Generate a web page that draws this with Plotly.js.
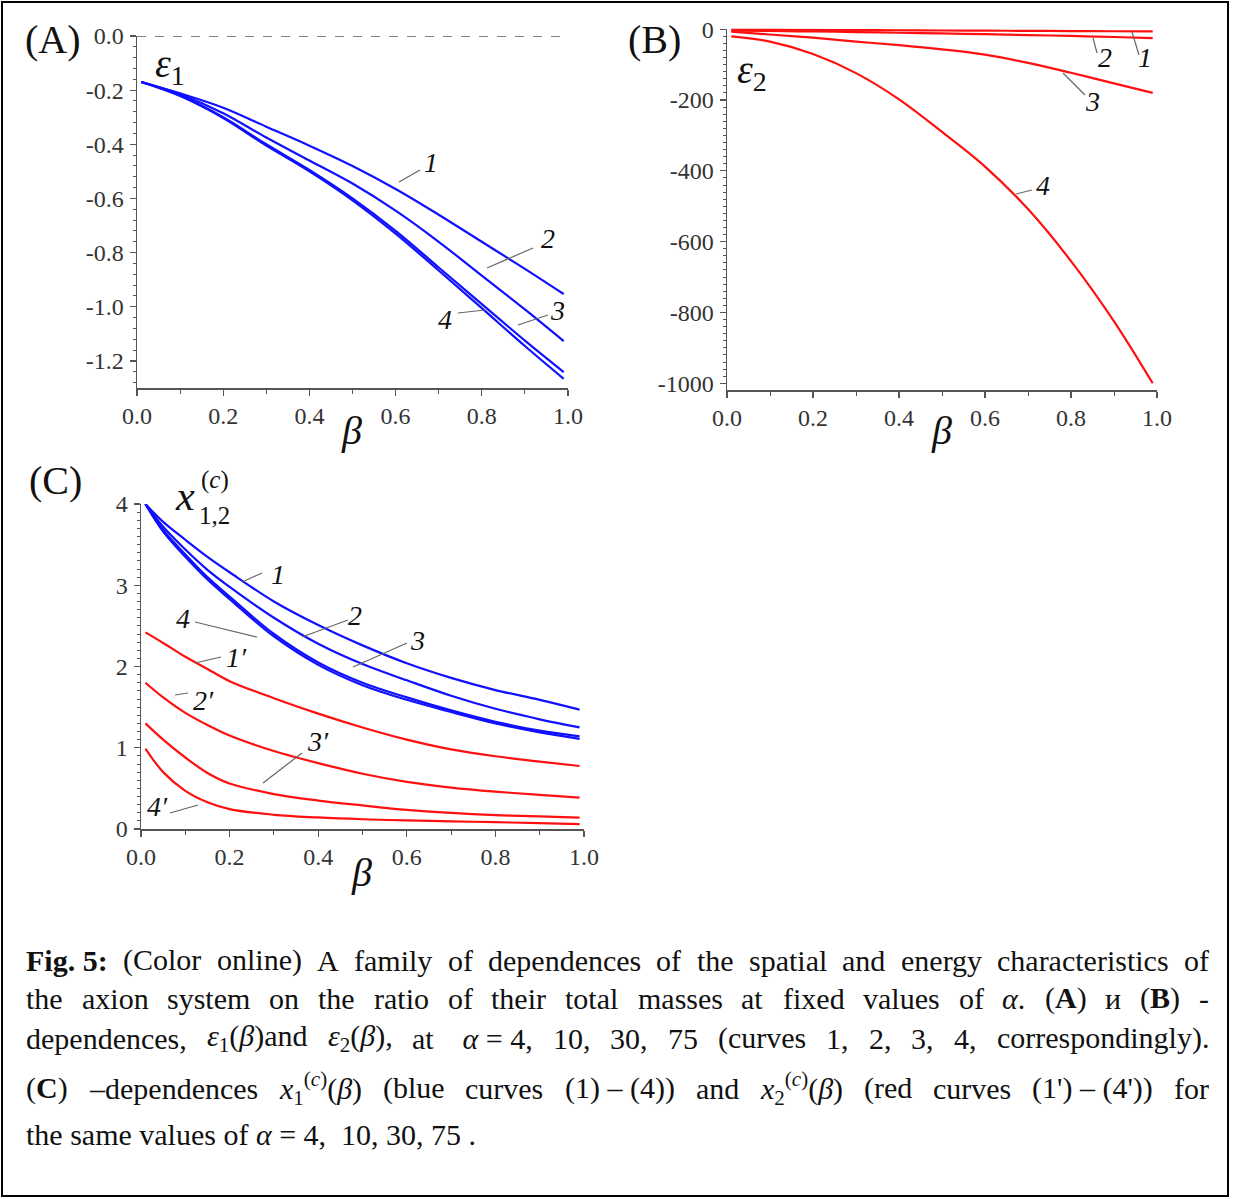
<!DOCTYPE html>
<html>
<head>
<meta charset="utf-8">
<script src="https://cdn.plot.ly/plotly-3.0.1.min.js"></script>
<style>
html,body{margin:0;padding:0;background:#fff;}
#plot{width:1236px;height:1199px;}
</style>
</head>
<body>
<div id="plot"></div>
<script>
// ---------------- DATA ----------------
// Panel A: eps1(beta) for alpha = 4, 10, 30, 75
const betaA = [0.01, 0.1, 0.2, 0.3, 0.4, 0.5, 0.6, 0.7, 0.8, 0.9, 0.99];
const eps1_a4  = [-0.170, -0.212, -0.265, -0.335, -0.405, -0.480, -0.565, -0.660, -0.760, -0.860, -0.953];
const eps1_a10 = [-0.170, -0.215, -0.285, -0.375, -0.460, -0.545, -0.645, -0.760, -0.885, -1.010, -1.127];
const eps1_a30 = [-0.170, -0.220, -0.300, -0.400, -0.495, -0.600, -0.720, -0.855, -0.990, -1.125, -1.241];
const eps1_a75 = [-0.170, -0.222, -0.303, -0.405, -0.500, -0.607, -0.730, -0.866, -1.005, -1.145, -1.266];

// Panel B: eps2(beta)
const betaB = [0.01, 0.1, 0.2, 0.3, 0.4, 0.5, 0.6, 0.7, 0.8, 0.9, 0.99];
const eps2_a4  = [-1, -1.4, -1.9, -2.5, -3, -3.6, -4.1, -4.7, -5.2, -5.8, -6.3];
const eps2_a10 = [-4, -5, -6.5, -8, -10, -12, -14, -16.5, -19, -22, -25];
const eps2_a30 = [-7, -15, -24, -35, -45, -57, -72, -95, -123, -153, -180];
const eps2_a75 = [-20, -35, -70, -124, -198, -290, -388, -508, -655, -825, -1000];

// Panel C: x1^(c)(beta) (blue) and x2^(c)(beta) (red)
const betaC = [0.01, 0.05, 0.1, 0.15, 0.2, 0.3, 0.4, 0.5, 0.6, 0.7, 0.8, 0.9, 0.99];
const x1_a4  = [4.0, 3.78, 3.56, 3.35, 3.16, 2.80, 2.51, 2.26, 2.04, 1.86, 1.71, 1.59, 1.47];
const x1_a10 = [4.0, 3.72, 3.44, 3.19, 2.98, 2.60, 2.28, 2.03, 1.83, 1.64, 1.48, 1.35, 1.25];
const x1_a30 = [4.0, 3.68, 3.38, 3.10, 2.86, 2.40, 2.05, 1.80, 1.62, 1.46, 1.32, 1.21, 1.14];
const x1_a75 = [4.0, 3.66, 3.35, 3.07, 2.83, 2.37, 2.02, 1.77, 1.59, 1.44, 1.30, 1.19, 1.11];
const x2_a4  = [2.42, 2.29, 2.12, 1.97, 1.82, 1.61, 1.42, 1.25, 1.10, 0.98, 0.895, 0.83, 0.775];
const x2_a10 = [1.80, 1.62, 1.43, 1.28, 1.15, 0.96, 0.81, 0.68, 0.58, 0.51, 0.46, 0.42, 0.385];
const x2_a30 = [1.30, 1.10, 0.88, 0.69, 0.56, 0.43, 0.35, 0.29, 0.235, 0.198, 0.172, 0.155, 0.14];
const x2_a75 = [0.99, 0.70, 0.47, 0.33, 0.245, 0.175, 0.142, 0.12, 0.105, 0.094, 0.084, 0.072, 0.06];

// Tick labels
const xTickVals = [0, 0.2, 0.4, 0.6, 0.8, 1.0];
const xTickText = ["0.0", "0.2", "0.4", "0.6", "0.8", "1.0"];
const yTickValsA = [0, -0.2, -0.4, -0.6, -0.8, -1.0, -1.2];
const yTickTextA = ["0.0", "-0.2", "-0.4", "-0.6", "-0.8", "-1.0", "-1.2"];
const yTickValsB = [0, -200, -400, -600, -800, -1000];
const yTickTextB = ["0", "-200", "-400", "-600", "-800", "-1000"];
const yTickValsC = [0, 1, 2, 3, 4];
const yTickTextC = ["0", "1", "2", "3", "4"];

// Caption text (tokens per line, justified)
const captionLines = [
  ["<b>Fig. 5:</b>", "(Color", "online)", "A", "family", "of", "dependences", "of", "the", "spatial", "and", "energy", "characteristics", "of"],
  ["the", "axion", "system", "on", "the", "ratio", "of", "their", "total", "masses", "at", "fixed", "values", "of", "<i>α</i>.", "(<b>A</b>)", "и", "(<b>B</b>)", "-"],
  ["dependences,", "<i>ε</i><sub>1</sub>(<i>β</i>)and", "<i>ε</i><sub>2</sub>(<i>β</i>),", "at", " <i>α</i> = 4,", "10,", "30,", "75", "(curves", "1,", "2,", "3,", "4,", "correspondingly)."],
  ["(<b>C</b>)", "–dependences", "<i>x</i><sub>1</sub><sup>(<i>c</i>)</sup>(<i>β</i>)", "(blue", "curves", "(1) – (4))", "and", "<i>x</i><sub>2</sub><sup>(<i>c</i>)</sup>(<i>β</i>)", "(red", "curves", "(1') – (4'))", "for"],
  ["the same values of <i>α</i> = 4,  10, 30, 75 ."]
];

// ---------------- LAYOUT HELPERS ----------------
const W = 1236, H = 1199;
const px = x => x / W;
const py = y => 1 - y / H;
const SERIF = "Liberation Serif";
const AX = "#555";
const BLUE = "#1010ff";
const RED = "#ff1010";
const tf = () => ({family: SERIF, size: 24, color: "#333"});

function xAxis(l, r, anchor) {
  return {
    domain: [px(l), px(r)], range: [0, 1], anchor: anchor,
    tickmode: "array", tickvals: xTickVals, ticktext: xTickText,
    ticks: "outside", ticklen: 6, tickwidth: 1.2, tickcolor: AX,
    ticklabelstandoff: 0,
    tickfont: tf(),
    minor: {tick0: 0, dtick: 0.1, ticks: "outside", ticklen: 4, tickwidth: 1, tickcolor: AX, showgrid: false},
    showline: true, linecolor: AX, linewidth: 1.5,
    showgrid: false, zeroline: false
  };
}
function yAxis(top, bottom, range, vals, text, minorDt, anchor) {
  return {
    domain: [py(bottom), py(top)], range: range, anchor: anchor,
    tickmode: "array", tickvals: vals, ticktext: text,
    ticks: "outside", ticklen: 6, tickwidth: 1.2, tickcolor: AX,
    ticklabelstandoff: 1,
    tickfont: tf(),
    minor: {tick0: 0, dtick: minorDt, ticks: "outside", ticklen: 3, tickwidth: 1, tickcolor: AX, showgrid: false},
    showline: true, linecolor: AX, linewidth: 1.5,
    showgrid: false, zeroline: false
  };
}
function curve(x, y, color, xa, ya) {
  return {x: x, y: y, type: "scatter", mode: "lines", xaxis: xa, yaxis: ya,
          line: {color: color, width: 2.2, shape: "spline", smoothing: 1},
          cliponaxis: false, showlegend: false, hoverinfo: "skip"};
}

const data = [
  curve(betaA, eps1_a4, BLUE, "x", "y"),
  curve(betaA, eps1_a10, BLUE, "x", "y"),
  curve(betaA, eps1_a30, BLUE, "x", "y"),
  curve(betaA, eps1_a75, BLUE, "x", "y"),
  curve(betaB, eps2_a4, RED, "x2", "y2"),
  curve(betaB, eps2_a10, RED, "x2", "y2"),
  curve(betaB, eps2_a30, RED, "x2", "y2"),
  curve(betaB, eps2_a75, RED, "x2", "y2"),
  curve(betaC, x1_a4, BLUE, "x3", "y3"),
  curve(betaC, x1_a10, BLUE, "x3", "y3"),
  curve(betaC, x1_a30, BLUE, "x3", "y3"),
  curve(betaC, x1_a75, BLUE, "x3", "y3"),
  curve(betaC, x2_a4, RED, "x3", "y3"),
  curve(betaC, x2_a10, RED, "x3", "y3"),
  curve(betaC, x2_a30, RED, "x3", "y3"),
  curve(betaC, x2_a75, RED, "x3", "y3")
];

// Text labels
const annotations = [];
function lab(text, x, y, size, xanchor) {
  annotations.push({text: text, x: px(x), y: py(y), xref: "paper", yref: "paper",
    xanchor: xanchor || "center", yanchor: "middle", showarrow: false, borderpad: 0,
    font: {family: SERIF, size: size, color: "#111"}});
}
lab("(A)", 53, 40, 40);
lab("(B)", 655, 40, 40);
lab("(C)", 55, 480, 40);
lab("<i>ε</i><sub>1</sub>", 154, 66, 40, "left");
lab("<i>ε</i><sub>2</sub>", 736, 72, 40, "left");
lab("<i>x</i>", 185, 496, 42);
lab("(<i>c</i>)", 215, 480, 25);
lab("1,2", 214, 515, 25);
lab("<i>β</i>", 351, 430, 40);
lab("<i>β</i>", 941, 430, 40);
lab("<i>β</i>", 361, 872, 40);
// curve labels
const cl = 28;
lab("<i>1</i>", 431, 162, cl); lab("<i>2</i>", 548, 238, cl); lab("<i>3</i>", 557, 311, cl); lab("<i>4</i>", 445, 320, cl);
lab("<i>2</i>", 1105, 58, cl); lab("<i>1</i>", 1145, 58, cl); lab("<i>3</i>", 1092, 102, cl); lab("<i>4</i>", 1043, 185, cl);
lab("<i>1</i>", 278, 574, cl); lab("<i>4</i>", 183, 618, cl); lab("<i>2</i>", 355, 615, cl); lab("<i>3</i>", 417, 640, cl);
lab("<i>1′</i>", 236, 657, cl); lab("<i>2′</i>", 203, 700, cl); lab("<i>3′</i>", 318, 741, cl); lab("<i>4′</i>", 157, 806, cl);

// Caption tokens
const capY = [960, 998, 1038, 1088, 1134];
const capLeft = 25, capRight = 1208;
const capFont = {family: SERIF, size: 30, color: "#111"};
const capIndex = [];
captionLines.forEach((toks, li) => {
  const row = [];
  toks.forEach(t => {
    row.push(annotations.length);
    annotations.push({text: t, x: px(capLeft), y: py(capY[li]), xref: "paper", yref: "paper",
      xanchor: "left", yanchor: "middle", showarrow: false, borderpad: 0, font: capFont});
  });
  capIndex.push(row);
});

// Leader lines and frame
const shapes = [];
function leader(x0, y0, x1, y1) {
  shapes.push({type: "line", xref: "paper", yref: "paper", x0: px(x0), y0: py(y0), x1: px(x1), y1: py(y1),
    line: {color: "#666", width: 1.2}});
}
leader(399,182,420,170); leader(487,268,533,248); leader(518,325,548,315); leader(458,313,485,310);
leader(1093,38,1097,53); leader(1132,32,1139,55); leader(1063,73,1085,95); leader(1016,194,1032,190);
leader(242,582,262,573); leader(195,622,257,637); leader(302,637,348,620); leader(353,667,407,643);
leader(195,663,221,657); leader(175,695,188,693); leader(263,783,302,753); leader(170,813,198,805);
shapes.push({type: "line", xref: "x", yref: "y", x0: 0, x1: 1, y0: 0, y1: 0,
  line: {color: AX, width: 1.5, dash: "dash"}});
shapes.push({type: "rect", xref: "paper", yref: "paper", x0: px(2), y0: py(1196), x1: px(1228), y1: py(2),
  line: {color: "#000", width: 2}, fillcolor: "rgba(0,0,0,0)"});

const layout = {
  width: W, height: H,
  margin: {l: 0, r: 0, t: 0, b: 0, pad: 0},
  font: {family: SERIF, size: 24, color: "#333"},
  paper_bgcolor: "#fff", plot_bgcolor: "#fff",
  showlegend: false,
  xaxis: xAxis(137, 568, "y"),
  yaxis: yAxis(36, 388, [-1.3, 0], yTickValsA, yTickTextA, 0.04, "x"),
  xaxis2: xAxis(727, 1157, "y2"),
  yaxis2: yAxis(28.5, 390, [-1019, 2], yTickValsB, yTickTextB, 20, "x2"),
  xaxis3: xAxis(141, 584, "y3"),
  yaxis3: yAxis(504, 829, [0, 4], yTickValsC, yTickTextC, 0.1, "x3"),
  annotations: annotations,
  shapes: shapes
};

const gd = document.getElementById("plot");
Plotly.newPlot(gd, data, layout, {displayModeBar: false, staticPlot: true}).then(() => {
  const widths = {};
  gd.querySelectorAll("g.annotation").forEach(g => {
    const idx = +g.getAttribute("data-index");
    const t = g.querySelector("text.annotation-text");
    if (t) widths[idx] = t.getBBox().width;
  });
  const upd = {};
  capIndex.forEach((row, li) => {
    if (row.length < 2) return;
    const total = row.reduce((s, i) => s + (widths[i] || 0), 0);
    const gap = (capRight - capLeft - total) / (row.length - 1);
    let x = capLeft;
    row.forEach(i => {
      upd["annotations[" + i + "].x"] = px(x);
      x += (widths[i] || 0) + gap;
    });
  });
  return Plotly.relayout(gd, upd);
});
</script>
</body>
</html>
